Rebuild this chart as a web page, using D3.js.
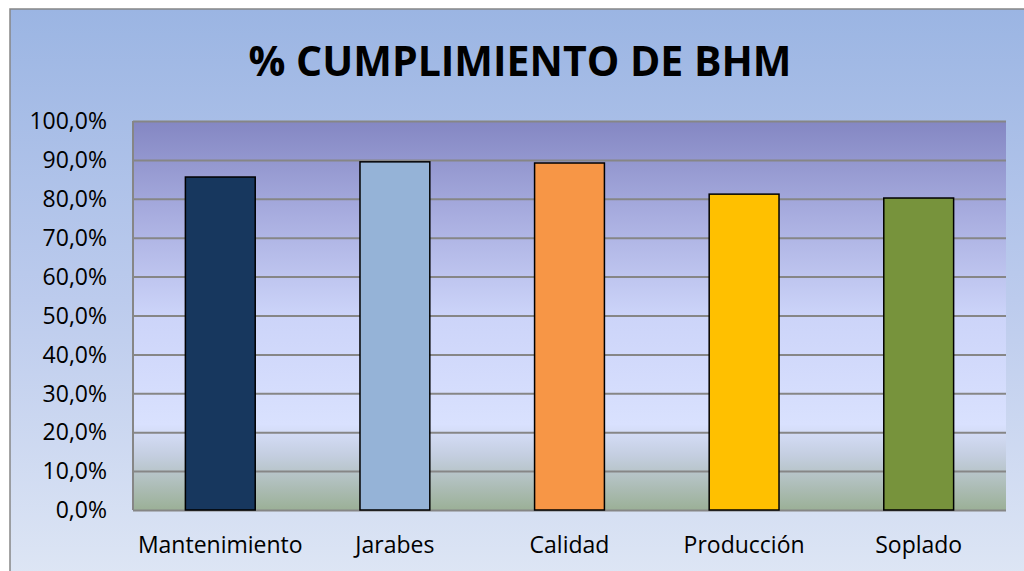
<!DOCTYPE html>
<meta charset="utf-8">
<script src="https://d3js.org/d3.v7.min.js"></script>
<style>
body { margin: 0; background: #fff; overflow: hidden; }
text { font-family: "Open Sans", "Noto Sans", sans-serif; fill: #000; }
.tick line { stroke: #868686; stroke-width: 2px; }
.domain { display: none; }
</style>
<body>
<script>

var categories = ["Mantenimiento", "Jarabes", "Calidad", "Producción", "Soplado"];
var values = [0.856, 0.895, 0.892, 0.812, 0.802];
var colors = ["#17375e", "#95b3d7", "#f79646", "#ffc000", "#77933c"];
var yTicks = [0, 0.1, 0.2, 0.3, 0.4, 0.5, 0.6, 0.7, 0.8, 0.9, 1.0];

var width = 1024,
    height = 571;

var margin = {left: 133, right: 18, top: 121, bottom: 61};

var svg = d3.select("body").append("svg")
    .attr("width", width)
    .attr("height", height);

var defs = svg.append("defs");

// outer background
var bg = defs.append("linearGradient").attr("id", "bg")
    .attr("x1", 0).attr("y1", 0).attr("x2", 0).attr("y2", 1);
bg.append("stop").attr("offset", "0%").attr("stop-color", "#9bb5e3");
bg.append("stop").attr("offset", "50%").attr("stop-color", "#bccbed");
bg.append("stop").attr("offset", "100%").attr("stop-color", "#dfe7f5");

// plot area background
var pg = defs.append("linearGradient").attr("id", "pg")
    .attr("x1", 0).attr("y1", 0).attr("x2", 0).attr("y2", 1);
pg.append("stop").attr("offset", "0%").attr("stop-color", "#8487c3");
pg.append("stop").attr("offset", "25%").attr("stop-color", "#a9aee0");
pg.append("stop").attr("offset", "50%").attr("stop-color", "#ccd4f9");
pg.append("stop").attr("offset", "78%").attr("stop-color", "#d9e1fe");
pg.append("stop").attr("offset", "86%").attr("stop-color", "#c4cee0");
pg.append("stop").attr("offset", "100%").attr("stop-color", "#9bb097");

// chart area (border only on left/top, runs off the right and bottom)
svg.append("rect")
    .attr("x", 10).attr("y", 9)
    .attr("width", width + 10).attr("height", height + 10)
    .attr("fill", "url(#bg)")
    .attr("stroke", "#868686")
    .attr("stroke-width", 1.5);

var x = d3.scaleBand()
    .domain(categories)
    .range([margin.left, width - margin.right])
    .paddingInner(0.6)
    .paddingOuter(0.3);

var y = d3.scaleLinear()
    .domain([0, 1])
    .range([height - margin.bottom, margin.top]);

svg.append("rect")
    .attr("x", margin.left).attr("y", margin.top)
    .attr("width", width - margin.right - margin.left)
    .attr("height", y(0) - y(1))
    .attr("fill", "url(#pg)");

// gridlines
svg.append("g")
    .attr("transform", "translate(" + margin.left + ",0)")
    .call(d3.axisLeft(y).tickValues(yTicks)
        .tickSize(-(width - margin.right - margin.left))
        .tickFormat(""));

svg.append("line")
    .attr("x1", margin.left).attr("x2", margin.left)
    .attr("y1", y(1)).attr("y2", y(0))
    .attr("stroke", "#868686").attr("stroke-width", 2);

// y labels
var fmt = function(d) { return d3.format(".1f")(d * 100).replace(".", ",") + "%"; };
svg.append("g")
    .selectAll("text")
    .data(yTicks)
    .enter().append("text")
    .attr("x", 107)
    .attr("y", function(d) { return y(d); })
    .attr("dy", "0.36em")
    .attr("text-anchor", "end")
    .style("font-size", "23px")
    .text(fmt);

// bars
svg.append("g")
    .selectAll("rect")
    .data(values)
    .enter().append("rect")
    .attr("x", function(d, i) { return x(categories[i]); })
    .attr("y", function(d) { return y(d); })
    .attr("width", x.bandwidth())
    .attr("height", function(d) { return y(0) - y(d); })
    .attr("fill", function(d, i) { return colors[i]; })
    .attr("stroke", "#000")
    .attr("stroke-width", 1.5);

// category labels
svg.append("g")
    .selectAll("text")
    .data(categories)
    .enter().append("text")
    .attr("x", function(d) { return x(d) + x.bandwidth() / 2; })
    .attr("y", 553)
    .attr("text-anchor", "middle")
    .style("font-size", "23px")
    .text(function(d) { return d; });

svg.append("text")
    .attr("x", 520)
    .attr("y", 76)
    .attr("text-anchor", "middle")
    .style("font-size", "41px")
    .style("font-weight", "bold")
    .text("% CUMPLIMIENTO DE BHM");

</script>
</body>
